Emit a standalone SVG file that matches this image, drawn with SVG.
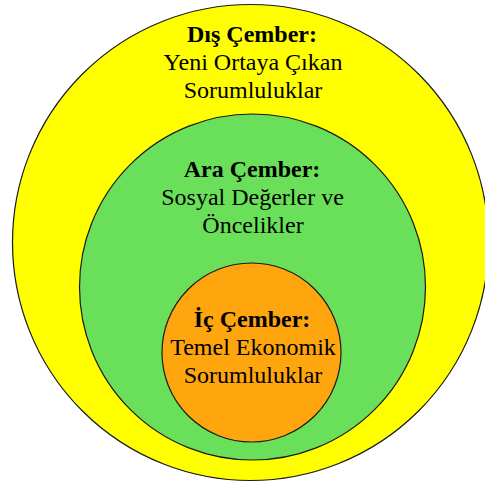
<svg xmlns="http://www.w3.org/2000/svg" width="485" height="488" viewBox="0 0 485 488">
  <style>
    .ring { stroke: #1a1a1a; stroke-width: 1.2; }
    .title { font-family: "Liberation Serif", "Times New Roman", serif; font-size: 24px; font-weight: bold; fill: #000; text-anchor: middle; }
    .body { font-family: "Liberation Serif", "Times New Roman", serif; font-size: 24px; fill: #000; text-anchor: middle; }
  </style>
  <rect width="485" height="488" fill="#ffffff"/>

  <!-- outer circle: emerging responsibilities -->
  <g id="dis-cember">
    <circle class="ring" cx="250.5" cy="242.5" r="238" fill="#ffff00"/>
    <text class="title" x="252" y="42">Dış Çember:</text>
    <text class="body" x="253" y="70">Yeni Ortaya Çıkan</text>
    <text class="body" x="253" y="98">Sorumluluklar</text>
  </g>

  <!-- middle circle: social values and priorities -->
  <g id="ara-cember">
    <circle class="ring" cx="252.5" cy="287" r="173" fill="#6ae05a"/>
    <text class="title" x="252" y="177">Ara Çember:</text>
    <text class="body" x="252.5" y="205">Sosyal Değerler ve</text>
    <text class="body" x="253" y="233">Öncelikler</text>
  </g>

  <!-- inner circle: basic economic responsibilities -->
  <g id="ic-cember">
    <circle class="ring" cx="251.5" cy="352.5" r="89.5" fill="#ffa60f"/>
    <text class="title" x="252" y="327">İç Çember:</text>
    <text class="body" x="253" y="355">Temel Ekonomik</text>
    <text class="body" x="253" y="383">Sorumluluklar</text>
  </g>

  <g id="connectors"/>
</svg>
